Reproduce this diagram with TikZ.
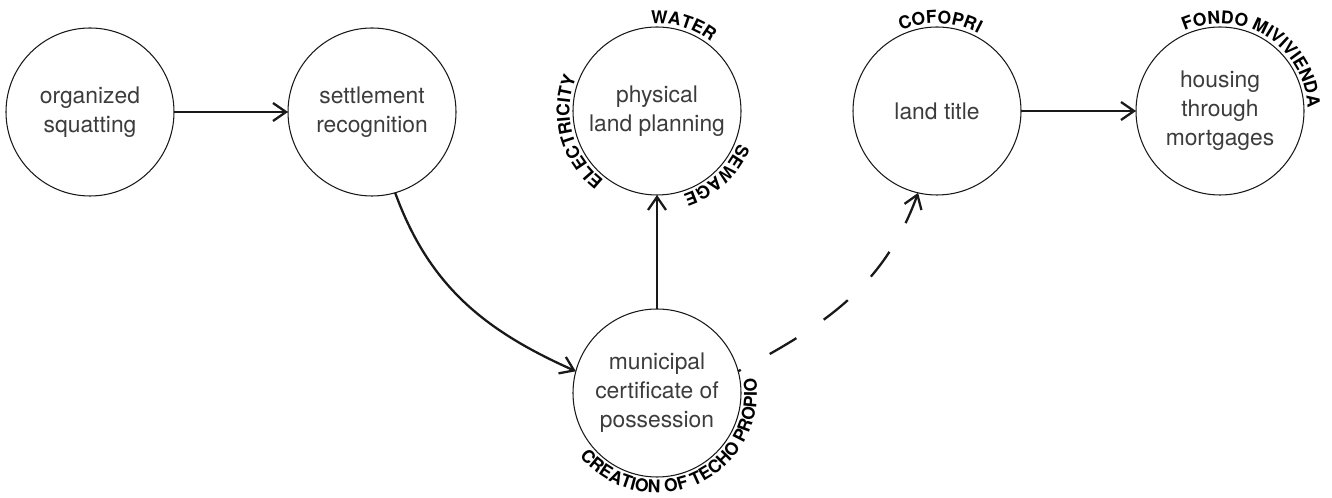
\documentclass[tikz,border=0pt]{standalone}
\usepackage{fontspec}
\setmainfont{TeX Gyre Heros}
\usetikzlibrary{arrows.meta,decorations.text}
\definecolor{labelgray}{RGB}{60,60,60}
\definecolor{linegray}{RGB}{25,25,25}
\newcommand{\arcfont}{\fontsize{10}{10}\selectfont\bfseries}

\begin{document}
\begin{tikzpicture}[
    stage/.style={circle, draw=linegray, line width=0.6pt, minimum size=3.36cm, inner sep=0pt, outer sep=0pt,
                  align=center, text=labelgray, font=\fontsize{13}{16.5}\selectfont},
    flow/.style={-{Straight Barb[length=2.6mm, width=3.6mm]}, line width=1.3pt, linegray},
    arclabel/.style={decorate, decoration={text along path, text align=center, text={|\arcfont|#1}}}
  ]
    \useasboundingbox (0,0) rectangle (26.64,9.96);

    \node[stage] (squat) at (1.80, 7.72) {organized\\squatting};
    \node[stage] (recog) at (7.44, 7.72) {settlement\\recognition};
    \node[stage] (plan) at (13.14, 7.74) {physical\\land planning};
    \node[stage] (title) at (18.74, 7.74) {land title};
    \node[stage] (mortgage) at (24.40, 7.74) {housing\\through\\mortgages};
    \node[stage] (cert) at (13.14, 2.10) {municipal\\certificate of\\possession};

    % labels round the circles
    \path[arclabel=WATER] ([shift={(113:1.75)}]plan.center) arc[start angle=113, end angle=33, radius=1.75];
    \path[arclabel=SEWAGE] ([shift={(-5:1.75)}]plan.center) arc[start angle=-5, end angle=-89, radius=1.75];
    \path[arclabel=ELECTRICITY] ([shift={(250:1.75)}]plan.center) arc[start angle=250, end angle=140, radius=1.75];
    \path[arclabel=COFOPRI] ([shift={(128:1.75)}]title.center) arc[start angle=128, end angle=48, radius=1.75];
    \path[arclabel=FONDO MIVIVIENDA] ([shift={(138:1.75)}]mortgage.center) arc[start angle=138, end angle=-22, radius=1.75];
    \path[arclabel=CREATION OF TECHO PROPIO] ([shift={(206:2.0)}]cert.center) arc[start angle=206, end angle=382, radius=2.0];

    \draw[flow] (squat) -- (recog);
    \draw[flow] (recog.-74) to[out=-70, in=156] (cert.165);
    \draw[flow] (cert) -- (plan);
    \draw[flow, dash pattern=on 0.62cm off 0.66cm, dash phase=0.56cm] (cert.15) to[out=28, in=-110] (title.-103);
    \draw[flow] (title) -- (mortgage);
\end{tikzpicture}
\end{document}
